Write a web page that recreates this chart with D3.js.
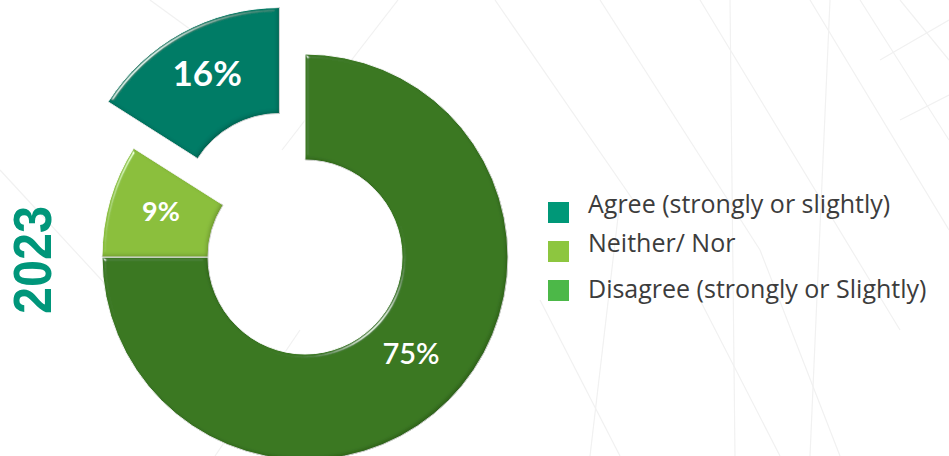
<!DOCTYPE html>
<html>
<head>
<meta charset="utf-8">
<script src="https://cdn.jsdelivr.net/npm/d3@7"></script>
<style>
  html, body { margin: 0; padding: 0; background: #ffffff; }
  svg { display: block; }
</style>
</head>
<body>
<svg id="chart" width="949" height="456"></svg>
<script>
// Survey responses, 2023
const categories = ["Agree (strongly or slightly)", "Neither/ Nor", "Disagree (strongly or Slightly)"];
const values = [16, 9, 75];
const yearLabel = "2023";
// Pie is drawn starting at 12 o'clock with Disagree first, then Neither, then Agree
const drawOrder = [2, 1, 0];
// Which slice is pulled out of the ring
const explodedIndex = 0;

const sliceColors = ["#037c66", "#8bbf3e", "#3a7823"];
const legendColors = ["#009878", "#8dc63f", "#4cb848"];

const W = 949, H = 456;
const cx = 305, cy = 257;
const outerR = 203, innerR = 97;
const explode = 53;

const svg = d3.select("#chart");

// Faint decorative line work in the background
const bgLines = [
  [[398, 0], [282, 150]], [[300, 330], [215, 456]],
  [[0, 170], [120, 300]], [[150, 0], [205, 40]],
  [[495, 0], [640, 210]], [[600, 0], [760, 250]],
  [[700, 0], [900, 330]], [[730, 0], [735, 456]],
  [[810, 0], [949, 230]], [[860, 0], [949, 140]],
  [[900, 0], [949, 60]], [[620, 200], [590, 456]],
  [[760, 250], [840, 456]], [[700, 300], [780, 456]],
  [[830, 0], [810, 456]], [[880, 60], [949, 20]],
  [[900, 120], [949, 95]], [[540, 300], [620, 456]]
];
svg.append("g").selectAll("line").data(bgLines).join("line")
  .attr("x1", d => d[0][0]).attr("y1", d => d[0][1])
  .attr("x2", d => d[1][0]).attr("y2", d => d[1][1])
  .attr("stroke", "#f1f1f1").attr("stroke-width", 1.2);

// Bevel lighting for the ring segments
const defs = svg.append("defs");
const f = defs.append("filter").attr("id", "bevel")
  .attr("x", "-10%").attr("y", "-10%").attr("width", "120%").attr("height", "120%");
f.append("feGaussianBlur").attr("in", "SourceAlpha").attr("stdDeviation", 2.2).attr("result", "blur");
const spec = f.append("feSpecularLighting").attr("in", "blur")
  .attr("surfaceScale", 3).attr("specularConstant", 0.7).attr("specularExponent", 60)
  .attr("lighting-color", "#ffffff").attr("result", "spec");
spec.append("feDistantLight").attr("azimuth", 225).attr("elevation", 35);
f.append("feComposite").attr("in", "spec").attr("in2", "SourceAlpha").attr("operator", "in").attr("result", "specIn");
f.append("feOffset").attr("in", "blur").attr("dx", -2).attr("dy", -2).attr("result", "off");
f.append("feComposite").attr("in", "SourceAlpha").attr("in2", "off").attr("operator", "arithmetic")
  .attr("k2", 1).attr("k3", -1).attr("result", "shadeEdge");
f.append("feColorMatrix").attr("in", "shadeEdge").attr("type", "matrix")
  .attr("values", "0 0 0 0 0  0 0 0 0 0  0 0 0 0 0  0 0 0 0.45 0").attr("result", "shade");
f.append("feComposite").attr("in", "SourceGraphic").attr("in2", "specIn").attr("operator", "arithmetic")
  .attr("k2", 1).attr("k3", 1).attr("result", "lit");
const m = f.append("feMerge");
m.append("feMergeNode").attr("in", "lit");
m.append("feMergeNode").attr("in", "shade");

const rows = drawOrder.map(i => ({ i, name: categories[i], value: values[i] }));
const pie = d3.pie().value(d => d.value).sort(null);
const arcs = pie(rows);
const arc = d3.arc().innerRadius(innerR).outerRadius(outerR);

function offsetOf(a) {
  if (a.data.i !== explodedIndex) return [0, 0];
  const mid = (a.startAngle + a.endAngle) / 2;
  return [Math.sin(mid) * explode, -Math.cos(mid) * explode];
}

const g = svg.append("g").attr("transform", `translate(${cx},${cy})`);
const slice = g.selectAll("g.slice").data(arcs).join("g")
  .attr("class", "slice")
  .attr("transform", d => { const o = offsetOf(d); return `translate(${o[0]},${o[1]})`; });

slice.append("path")
  .attr("d", arc)
  .attr("fill", d => sliceColors[d.data.i])
  .attr("stroke", "#ffffff").attr("stroke-width", 1)
  .attr("filter", "url(#bevel)");

const labelSize = { 0: 35, 1: 27, 2: 29 };
const labelShift = { 0: -7, 1: -5, 2: -11 };
slice.append("text")
  .attr("x", d => arc.centroid(d)[0])
  .attr("y", d => arc.centroid(d)[1] + labelShift[d.data.i])
  .attr("text-anchor", "middle")
  .attr("dominant-baseline", "central")
  .attr("fill", "#ffffff")
  .attr("font-family", "Lato, 'Open Sans', sans-serif")
  .attr("font-weight", d => d.data.i === 2 ? 600 : 700)
  .attr("font-size", d => labelSize[d.data.i])
  .text(d => d.data.value + "%");

// Rotated year label
svg.append("text")
  .attr("transform", "translate(51,260) rotate(-90)")
  .attr("text-anchor", "middle")
  .attr("fill", "#00967a")
  .attr("font-family", "'Liberation Sans', Arial, sans-serif")
  .attr("font-weight", 700)
  .attr("font-size", 54)
  .attr("textLength", 108)
  .attr("lengthAdjust", "spacingAndGlyphs")
  .text(yearLabel);

// Legend
const swatchY = [202, 241, 280];
const textY = [213, 252, 298];
const legend = svg.append("g").attr("transform", "translate(548,0)");
const item = legend.selectAll("g").data(categories).join("g");
item.append("rect")
  .attr("y", (d, i) => swatchY[i])
  .attr("width", 21).attr("height", 21)
  .attr("fill", (d, i) => legendColors[i]);
item.append("text")
  .attr("x", 40).attr("y", (d, i) => textY[i])
  .attr("fill", "#3c3c3c")
  .attr("font-family", "'Open Sans', Lato, sans-serif")
  .attr("font-size", 25)
  .text(d => d);
</script>
</body>
</html>
